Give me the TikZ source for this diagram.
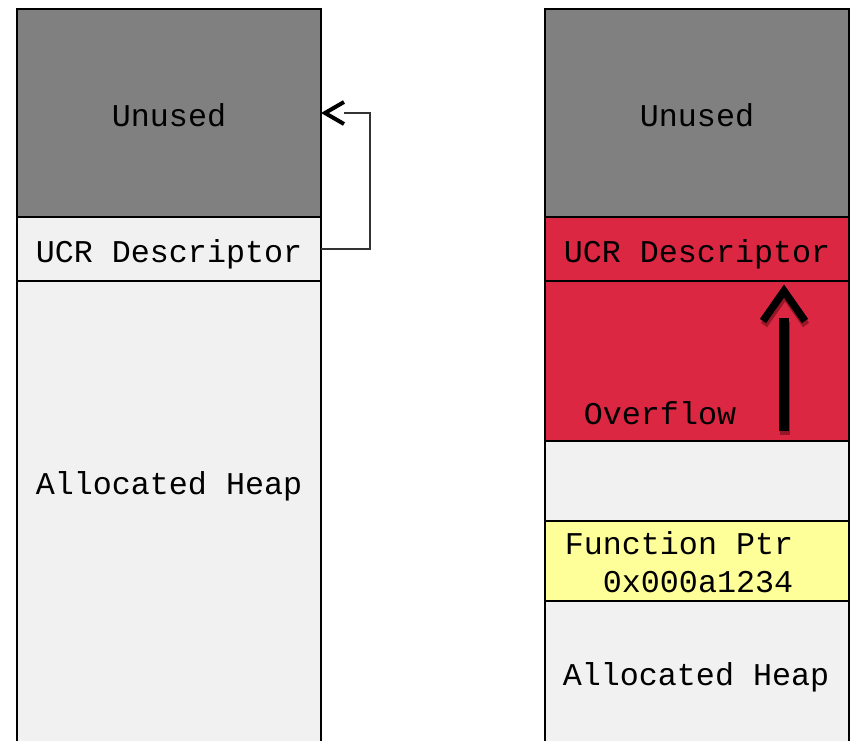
\documentclass[tikz,border=0pt]{standalone}
\usepackage{fontspec}
\usepackage{tikz}
\usetikzlibrary{calc}

\newfontfamily\memfont{Liberation Mono}
\definecolor{unusedgray}{RGB}{128,128,128}
\definecolor{heapgray}{RGB}{241,241,241}
\definecolor{ovred}{RGB}{219,39,65}
\definecolor{ovshadow}{RGB}{150,22,40}
\definecolor{ptryellow}{RGB}{255,255,153}

\tikzset{
  cell/.style={draw, line width=2pt, minimum width=304pt, inner sep=0pt,
    outer sep=0pt, text height=27pt, text depth=0pt,
    font=\memfont\fontsize{31.7}{38}\selectfont},
  txt/.style={inner sep=0pt, font=\memfont\fontsize{31.7}{38}\selectfont},
  barb/.style={line join=miter, line cap=butt},
}

\begin{document}
\begin{tikzpicture}[x=1pt,y=-1pt]

\useasboundingbox (0,0) rectangle (852,741);
\clip (0,0) rectangle (852,741);

% left: before overflow
\node[cell, fill=unusedgray, minimum height=208pt] (unusedL) at (169,113) {Unused};
\node[cell, fill=heapgray, minimum height=64pt] (ucrL) at (169,249) {UCR Descriptor};
\node[cell, fill=heapgray, minimum height=479pt] (heapL) at (169,520.5) {};
\node[txt] (heapLtxt) at (169,486) {Allocated Heap};

% right: after overflow
\node[cell, fill=unusedgray, minimum height=208pt] (unusedR) at (697,113) {Unused};
\node[cell, fill=ovred, minimum height=64pt] (ucrR) at (697,249) {UCR Descriptor};
\node[cell, fill=ovred, minimum height=160pt] (overR) at (697,361) {};
\node[cell, fill=heapgray, minimum height=80pt] (gapR) at (697,481) {};
\node[cell, fill=ptryellow, minimum height=80pt] (funcR) at (697,561) {};
\node[cell, fill=heapgray, minimum height=159pt] (heapR) at (697,680.5) {};

\node[txt] (overtxt) at (660,413) {Overflow};
\node[txt, align=right] (functxt) at (679,562) {Function Ptr\\0x000a1234};
\node[txt] (heapRtxt) at (696,677) {Allocated Heap};

% descriptor points back to unused space
\coordinate (bendL) at (370,113);
\coordinate (tipL) at ($(unusedL.east)+(4,0)$);
\draw[line width=1.3pt, black!80] (ucrL.east) -| (bendL) -- ($(tipL)+(19,0)$);
\draw[barb, line width=4pt] ($(tipL)+(19,-11)$) -- (tipL) -- ($(tipL)+(19,11)$);

% overflow growing upward (shadow first)
\coordinate (ovbase) at (784,431);
\coordinate (ovtip) at (784,291);
\foreach \dx/\dy/\col in {1/4/ovshadow, 0/0/black} {
  \draw[barb, line width=10pt, \col] ($(ovbase)+(\dx,\dy)$) -- ($(ovtip)+(\dx,\dy+27)$);
  \draw[barb, line width=7.5pt, \col] ($(ovtip)+(\dx-21,\dy+30)$) -- ($(ovtip)+(\dx,\dy)$)
    -- ($(ovtip)+(\dx+21,\dy+30)$);
}

\end{tikzpicture}
\end{document}
